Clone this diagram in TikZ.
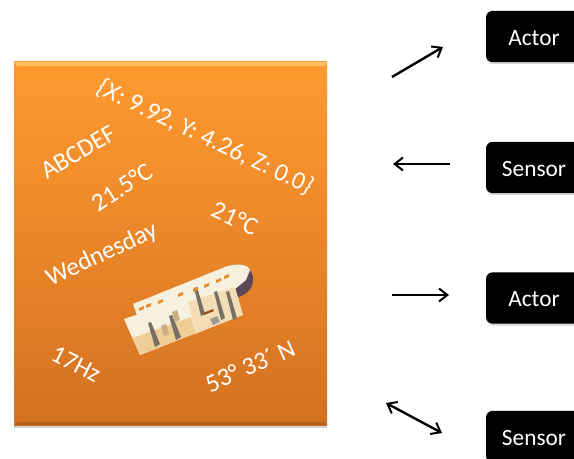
\documentclass[tikz,border=0pt]{standalone}
\usepackage{fontspec}
\setmainfont{Carlito}
\usetikzlibrary{arrows.meta, shadows}
\definecolor{panelTop}{RGB}{255,155,48}
\definecolor{panelBot}{RGB}{212,113,34}
\definecolor{panelLip}{RGB}{255,190,95}
\definecolor{wallCream}{RGB}{246,241,222}
\definecolor{floorTan}{RGB}{238,205,150}
\definecolor{wallGrey}{RGB}{118,112,100}
\definecolor{roundRoom}{RGB}{92,72,88}
\tikzset{
  panelbox/.style={
    rectangle,
    draw=none,
    top color=panelTop,
    bottom color=panelBot,
    minimum width=234.75pt,
    minimum height=272.25pt,
    drop shadow={shadow xshift=0pt, shadow yshift=-2.5pt, opacity=0.35}
  },
  devicebox/.style={
    rectangle,
    rounded corners=5pt,
    fill=black,
    text=white,
    align=center,
    minimum width=72pt,
    minimum height=38.5pt,
    text height=13.5pt,
    font=\fontsize{17.5}{20}\selectfont,
    drop shadow={shadow xshift=0pt, shadow yshift=-1.5pt, opacity=0.3}
  },
  readout/.style={
    text=white,
    inner sep=0pt,
    font=\fontsize{19}{22}\selectfont
  },
  arrow/.style={-{Straight Barb[length=2.2mm, width=3.4mm, line width=1.5pt]}, line width=1.8pt},
  dblarrow/.style={{Straight Barb[length=2.2mm, width=3.4mm, line width=1.5pt]}-{Straight Barb[length=2.2mm, width=3.4mm, line width=1.5pt]}, line width=1.8pt}
}

\begin{document}
\begin{tikzpicture}[x=0.75pt, y=-0.75pt]
  \clip (0,0) rectangle (574,459);

  % orange panel
  \node[panelbox] (panel) at (170.5,243.5) {};
  \fill[panelLip] (14,62) -- (327,62) -- (324,66) -- (17,66) -- cycle;
  \fill[panelBot!85!black] (14,425) -- (327,425) -- (324,422) -- (17,422) -- cycle;

  % readouts
  \node[readout, rotate=-25.5] (pos) at (205,137) {\textit{\{X}: 9.92, Y: 4.26, Z: 0.0\textit{\}}};
  \node[readout, rotate=30] (code) at (78,152) {ABCDEF};
  \node[readout, rotate=33] (tempa) at (122,187) {21.5°C};
  \node[readout, rotate=-25] (tempb) at (235,218) {21°C};
  \node[readout, rotate=25] (day) at (102,255) {Wednesday};
  \node[readout, rotate=-27] (freq) at (76,364) {17Hz};
  \node[readout, rotate=24] (lat) at (250,366) {53° 33´ N};

  % floor plan
  \fill[roundRoom] (232,266) .. controls (245,262) and (254,270) .. (253,281)
    .. controls (252,291) and (244,296) .. (235,298) -- cycle;
  \fill[wallCream] (133,304) -- (225,267) .. controls (236,263) and (248,264) .. (250,270)
    -- (246,280) -- (235,289) -- (187,303) -- (138,318) -- cycle;
  \fill[floorTan!70!white] (187,302) -- (235,287) -- (243,315) -- (195,334) -- cycle;
  \fill[wallCream] (124,319) -- (187,298) -- (196,333) -- (140,355) -- cycle;
  \fill[floorTan] (133,338) -- (191,317) -- (196,333) -- (140,355) -- cycle;
  % partitions, lower wing
  \foreach \wx/\wy in {148/323, 169/316} {
    \fill[wallGrey] (\wx,\wy) -- (\wx+3,\wy-1) -- (\wx+12,\wy+21) -- (\wx+7,\wy+24) -- cycle;
  }
  % partitions, right rooms
  \foreach \wx/\wy in {194/288, 214/292, 226/292} {
    \fill[wallGrey] (\wx,\wy) -- (\wx+3,\wy-1) -- (\wx+11,\wy+26) -- (\wx+7,\wy+28) -- cycle;
  }
  % door openings
  \foreach \wx/\wy in {161/326, 172/312} {
    \fill[floorTan!85!black] (\wx,\wy) -- (\wx+5,\wy-2) -- (\wx+8,\wy+8) -- (\wx+3,\wy+10) -- cycle;
  }
  % windows
  \foreach \wx/\wy in {139/308, 146/305, 158/301, 178/294, 193/289, 204/285, 216/280, 224/276} {
    \fill[panelTop!90!black] (\wx,\wy) -- (\wx+5,\wy-2) -- (\wx+5,\wy+1) -- (\wx,\wy+3) -- cycle;
  }
  \fill[panelBot!70!black] (203,313) -- (213,309) -- (214,311) -- (204,315) -- cycle;
  \fill[wallGrey!70!white] (210,319) -- (217,316) -- (220,322) -- (213,325) -- cycle;

  % devices
  \node[devicebox] (actorA) at (534,36.5) {Actor};
  \node[devicebox] (sensorA) at (534,167.5) {Sensor};
  \node[devicebox] (actorB) at (534,298) {Actor};
  \node[devicebox] (sensorB) at (534,436.5) {Sensor};

  % free arrow ends
  \coordinate (actorAfrom) at (392,77);
  \coordinate (actorAto) at (443,47);
  \coordinate (sensorAfrom) at (450,164);
  \coordinate (sensorAto) at (393,164);
  \coordinate (actorBfrom) at (392,295);
  \coordinate (actorBto) at (449,295);
  \coordinate (sensorBfrom) at (386,403);
  \coordinate (sensorBto) at (442,433);

  \draw[arrow] (actorAfrom) -- (actorAto);
  \draw[arrow] (sensorAfrom) -- (sensorAto);
  \draw[arrow] (actorBfrom) -- (actorBto);
  \draw[dblarrow] (sensorBfrom) -- (sensorBto);
\end{tikzpicture}
\end{document}
